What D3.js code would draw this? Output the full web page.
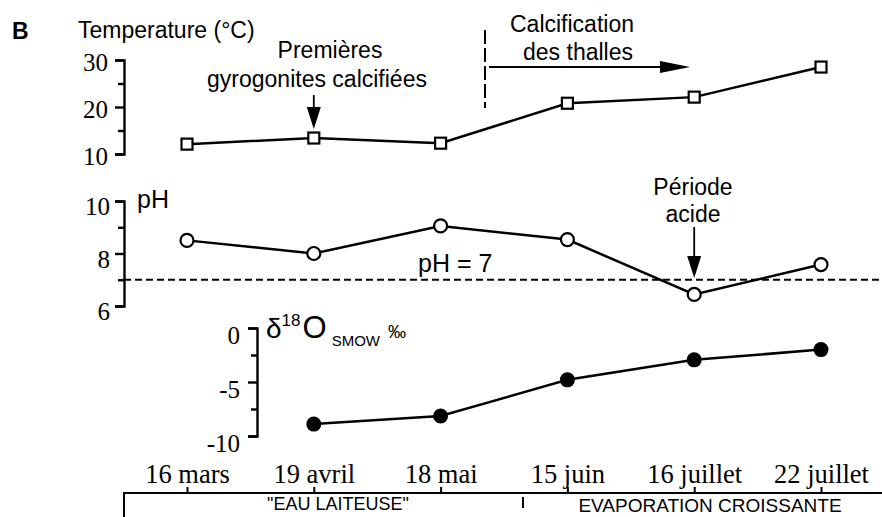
<!DOCTYPE html>
<html>
<head>
<meta charset="utf-8">
<script src="https://cdn.jsdelivr.net/npm/d3@7"></script>
<style>
  html, body { margin: 0; padding: 0; background: #fff; }
  svg { display: block; }
</style>
</head>
<body>
<svg id="chart" width="882" height="517"></svg>
<script>
// Sampling dates
const dates = ["16 mars", "19 avril", "18 mai", "15 juin", "16 juillet", "22 juillet"];
// Water temperature (°C)
const temperature = [12.1, 13.4, 12.3, 20.8, 22.1, 28.5];
// pH
const ph = [8.5, 8.0, 9.05, 8.53, 6.44, 7.58];
// δ18O SMOW (‰); no sample on the first date
const d18O = [null, -8.9, -8.15, -4.8, -2.95, -2.0];

const tempTicks = [10, 20, 30], tempMinor = [15, 25];
const phTicks = [6, 8, 10], phMinor = [7, 9];
const oTicks = [-10, -5, 0], oMinor = [-7.5, -2.5];

const SANS = '"Liberation Sans", Arial, Helvetica, sans-serif';
const SERIF = '"Liberation Serif", "Times New Roman", serif';

const svg = d3.select("#chart");
const ink = "#000";

const x = d3.scalePoint().domain(dates).range([187, 821]);
const yT = d3.scaleLinear().domain([10, 30]).range([154, 60]);
const yP = d3.scaleLinear().domain([6, 10]).range([306, 201]);
const yO = d3.scaleLinear().domain([-10, 0]).range([436, 328]);

function leftAxis(scale, major, minor, xPos, dy, pad) {
  const g = svg.append("g").attr("transform", `translate(${xPos},0)`);
  g.append("g").call(d3.axisLeft(scale).tickValues(minor).tickSize(6).tickSizeOuter(0).tickFormat(""))
    .call(s => s.select(".domain").remove());
  const a = g.append("g").call(d3.axisLeft(scale).tickValues(major).tickSize(9).tickSizeOuter(9)
    .tickPadding(pad).tickFormat(d => String(d)));
  g.selectAll("path, line").attr("stroke", ink).attr("stroke-width", 2.4);
  a.selectAll("text").style("font-family", SERIF).style("font-size", "25px")
    .attr("fill", ink).attr("dy", dy);
  return g;
}

leftAxis(yT, tempTicks, tempMinor, 124, "0.42em", 7);
leftAxis(yP, phTicks, phMinor, 124, "0.55em", 5);
leftAxis(yO, oTicks, oMinor, 257, "0.6em", 8);

// pH = 7 reference line
svg.append("line")
  .attr("x1", 124).attr("x2", 882).attr("y1", yP(7)).attr("y2", yP(7))
  .attr("stroke", ink).attr("stroke-width", 2).attr("stroke-dasharray", "7,4");

// Series lines
const line = sc => d3.line().x(d => x(d.k)).y(d => sc(d.v));
const rows = arr => dates.map((k, i) => ({ k, v: arr[i] })).filter(d => d.v != null);

svg.append("path").datum(rows(temperature)).attr("d", line(yT))
  .attr("fill", "none").attr("stroke", ink).attr("stroke-width", 2.5);
svg.append("path").datum(rows(ph)).attr("d", line(yP))
  .attr("fill", "none").attr("stroke", ink).attr("stroke-width", 2.5);
svg.append("path").datum(rows(d18O)).attr("d", line(yO))
  .attr("fill", "none").attr("stroke", ink).attr("stroke-width", 2.5);

// Markers
svg.append("g").selectAll("rect").data(rows(temperature)).join("rect")
  .attr("x", d => x(d.k) - 5.5).attr("y", d => yT(d.v) - 5.5)
  .attr("width", 11).attr("height", 11)
  .attr("fill", "#fff").attr("stroke", ink).attr("stroke-width", 2.2);
svg.append("g").selectAll("circle").data(rows(ph)).join("circle")
  .attr("cx", d => x(d.k)).attr("cy", d => yP(d.v)).attr("r", 6.5)
  .attr("fill", "#fff").attr("stroke", ink).attr("stroke-width", 2.2);
svg.append("g").selectAll("circle").data(rows(d18O)).join("circle")
  .attr("cx", d => x(d.k)).attr("cy", d => yO(d.v)).attr("r", 7.5)
  .attr("fill", ink);

// Date axis (ticks point upward, labels above)
const xa = svg.append("g").attr("transform", "translate(0,493)")
  .call(d3.axisTop(x).tickSize(6).tickSizeOuter(0).tickPadding(4));
xa.select(".domain").remove();
xa.selectAll("line").attr("stroke", ink).attr("stroke-width", 2);
xa.selectAll("text").style("font-family", SERIF).style("font-size", "26.5px").attr("fill", ink);
svg.append("path").attr("d", "M124,517 V493 H882")
  .attr("fill", "none").attr("stroke", ink).attr("stroke-width", 2);
svg.append("line").attr("x1", 523).attr("x2", 523).attr("y1", 497).attr("y2", 508)
  .attr("stroke", ink).attr("stroke-width", 2);

// Text helper
function txt(t, px, py, size, anchor, weight) {
  return svg.append("text").style("font-family", SANS).attr("x", px).attr("y", py)
    .style("font-size", size + "px").attr("text-anchor", anchor || "start")
    .attr("font-weight", weight || "normal").attr("fill", ink).text(t);
}

// Phase labels
txt("\"EAU LAITEUSE\"", 338, 510, 18, "middle");
txt("EVAPORATION CROISSANTE", 710, 512, 19, "middle");

// Panel letter and axis titles
txt("B", 12, 39, 23, "start", "bold");
txt("Temperature (°C)", 78, 38, 23);
txt("pH", 137, 208, 25);
txt("pH = 7", 418, 272, 25);

const dt = svg.append("text").style("font-family", SANS).attr("fill", ink);
dt.append("tspan").attr("x", 266).attr("y", 338).style("font-size", "28px").text("δ");
dt.append("tspan").style("font-size", "17px").attr("dy", -12).text("18");
dt.append("tspan").style("font-size", "31px").attr("dy", 12).attr("dx", 2).text("O");
dt.append("tspan").style("font-size", "15px").attr("dy", 8).attr("dx", 5).text("SMOW");
dt.append("tspan").style("font-size", "18px").attr("dy", -8).attr("dx", 8).text("‰");

// Annotations
txt("Premières", 330, 58, 23, "middle");
txt("gyrogonites calcifiées", 317, 87, 23, "middle");
txt("Calcification", 572, 32, 23, "middle");
txt("des thalles", 578, 60, 23, "middle");
txt("Période", 693, 195, 23, "middle");
txt("acide", 693, 222, 23, "middle");

function downArrow(ax, y0, y1) {
  svg.append("line").attr("x1", ax).attr("x2", ax).attr("y1", y0).attr("y2", y1 - 20)
    .attr("stroke", ink).attr("stroke-width", 1.8);
  svg.append("path").attr("d", `M${ax - 7},${y1 - 22} L${ax + 7},${y1 - 22} L${ax},${y1} Z`).attr("fill", ink);
}
downArrow(x("19 avril"), 95, 129);
downArrow(x("16 juillet"), 227, 278);

// Start of thallus calcification
svg.append("line").attr("x1", 485).attr("x2", 485).attr("y1", 30).attr("y2", 108)
  .attr("stroke", ink).attr("stroke-width", 2).attr("stroke-dasharray", "14,4");
svg.append("line").attr("x1", 489).attr("x2", 662).attr("y1", 67).attr("y2", 67)
  .attr("stroke", ink).attr("stroke-width", 1.8);
svg.append("path").attr("d", "M660,61 L660,73 L690,67 Z").attr("fill", ink);
</script>
</body>
</html>
